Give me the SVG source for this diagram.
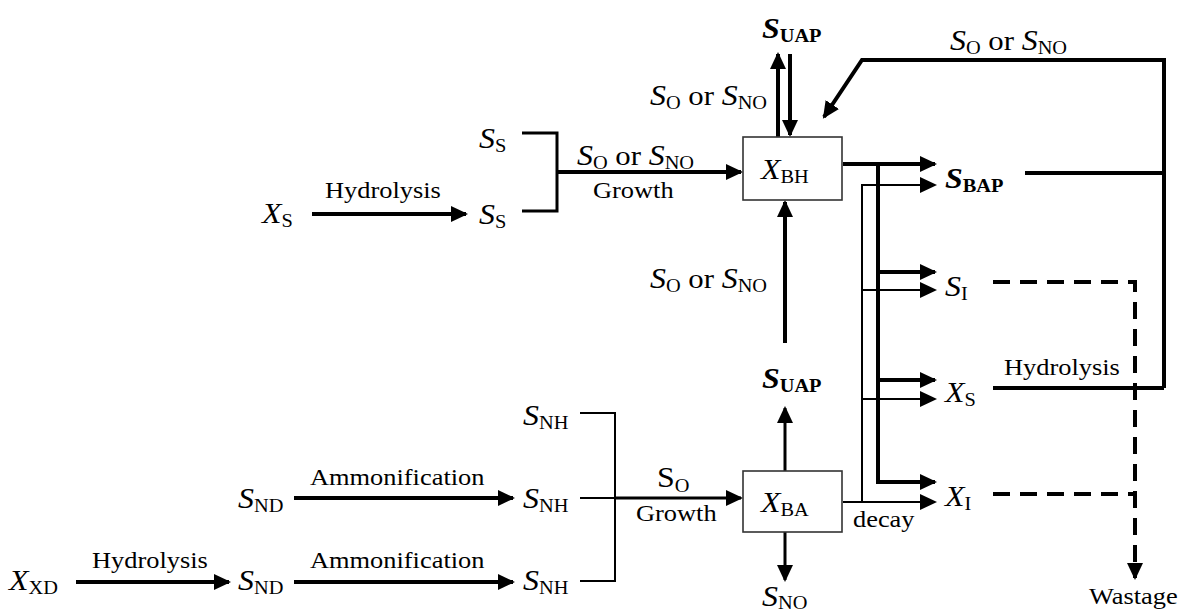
<svg xmlns="http://www.w3.org/2000/svg" width="1184" height="615" viewBox="0 0 1184 615">
<style>
.t{font-family:"Liberation Serif","Times New Roman",serif;fill:#000}
.m{font-size:29px;font-style:italic}
.s{font-size:18.5px;font-style:normal}
.o{font-size:28px;font-style:normal}
.u{font-size:29px;font-style:normal}
.l{font-size:24px}
.b{font-weight:bold}
.k{fill:none;stroke:#000;stroke-width:4}
.n{fill:none;stroke:#000;stroke-width:2}
.md{fill:none;stroke:#000;stroke-width:3}
.d{fill:none;stroke:#000;stroke-width:4;stroke-dasharray:17 10}
.box{fill:#fff;stroke:#333;stroke-width:1.6}
</style>
<defs>
<marker id="ah" markerUnits="userSpaceOnUse" markerWidth="18" markerHeight="18" refX="15" refY="9" orient="auto" viewBox="0 0 18 18">
<path d="M0,1 L17,9 L0,17 z" fill="#000"/>
</marker>
</defs>
<rect width="1184" height="615" fill="#fff"/>

<g id="connectors">
<line class="k" x1="312" y1="214" x2="466" y2="214" marker-end="url(#ah)"/>
<polyline class="md" points="522,133 557,133 557,211 522,211"/>
<line class="k" x1="557" y1="172" x2="741" y2="172" marker-end="url(#ah)"/>
<line class="k" x1="778" y1="137" x2="778" y2="54" marker-end="url(#ah)"/>
<line class="k" x1="790" y1="54" x2="790" y2="135" marker-end="url(#ah)"/>
<polyline class="k" points="1164,388 1164,60 862,60 824,117" marker-end="url(#ah)"/>
<line class="k" x1="1025" y1="173" x2="1164" y2="173"/>
<line class="k" x1="993" y1="388" x2="1164" y2="388"/>
<line class="k" x1="785" y1="343" x2="785" y2="202" marker-end="url(#ah)"/>
<line class="k" x1="843" y1="164" x2="935" y2="164" marker-end="url(#ah)"/>
<line class="k" x1="878" y1="164" x2="878" y2="482"/>
<line class="k" x1="876" y1="272" x2="935" y2="272" marker-end="url(#ah)"/>
<line class="k" x1="876" y1="380" x2="935" y2="380" marker-end="url(#ah)"/>
<line class="k" x1="876" y1="482" x2="935" y2="482" marker-end="url(#ah)"/>
<line class="n" x1="862" y1="185" x2="862" y2="502"/>
<line class="n" x1="861" y1="185" x2="935" y2="185" marker-end="url(#ah)"/>
<line class="n" x1="862" y1="290" x2="935" y2="290" marker-end="url(#ah)"/>
<line class="n" x1="862" y1="399" x2="935" y2="399" marker-end="url(#ah)"/>
<line class="n" x1="843" y1="502" x2="935" y2="502" marker-end="url(#ah)"/>
<polyline class="d" points="993,282 1135,282 1135,578" marker-end="url(#ah)"/>
<line class="d" x1="993" y1="494" x2="1135" y2="494"/>
<line class="md" x1="785" y1="471" x2="785" y2="408" marker-end="url(#ah)"/>
<line class="md" x1="785" y1="532" x2="785" y2="580" marker-end="url(#ah)"/>
<polyline class="n" points="580,413 615,413 615,581 580,581"/>
<line class="n" x1="580" y1="498" x2="615" y2="498"/>
<line class="md" x1="615" y1="498" x2="741" y2="498" marker-end="url(#ah)"/>
<line class="k" x1="294" y1="498" x2="513" y2="498" marker-end="url(#ah)"/>
<line class="k" x1="294" y1="582" x2="513" y2="582" marker-end="url(#ah)"/>
<line class="k" x1="76" y1="582" x2="229" y2="582" marker-end="url(#ah)"/>
</g>

<g id="labels">
<text class="t l" transform="translate(325,198) scale(1.1,1)">Hydrolysis</text>
<text class="t" transform="translate(577,165) scale(1.1,1)"><tspan class="m">S</tspan><tspan class="s" dy="4">O</tspan><tspan class="o" dy="-4"> or </tspan><tspan class="m">S</tspan><tspan class="s" dy="4">NO</tspan></text>
<text class="t l" transform="translate(593,198) scale(1.1,1)">Growth</text>
<text class="t" transform="translate(650,105) scale(1.1,1)"><tspan class="m">S</tspan><tspan class="s" dy="4">O</tspan><tspan class="o" dy="-4"> or </tspan><tspan class="m">S</tspan><tspan class="s" dy="4">NO</tspan></text>
<text class="t" transform="translate(950,50) scale(1.1,1)"><tspan class="m">S</tspan><tspan class="s" dy="4">O</tspan><tspan class="o" dy="-4"> or </tspan><tspan class="m">S</tspan><tspan class="s" dy="4">NO</tspan></text>
<text class="t" transform="translate(650,288) scale(1.1,1)"><tspan class="m">S</tspan><tspan class="s" dy="4">O</tspan><tspan class="o" dy="-4"> or </tspan><tspan class="m">S</tspan><tspan class="s" dy="4">NO</tspan></text>
<text class="t l" transform="translate(1004,375) scale(1.1,1)">Hydrolysis</text>
<text class="t" transform="translate(657,487) scale(1.1,1)"><tspan class="u">S</tspan><tspan class="s" dy="5">O</tspan></text>
<text class="t l" transform="translate(636,521) scale(1.1,1)">Growth</text>
<text class="t l" transform="translate(853,527) scale(1.1,1)">decay</text>
<text class="t l" transform="translate(310,485) scale(1.1,1)">Ammonification</text>
<text class="t l" transform="translate(310,568) scale(1.1,1)">Ammonification</text>
<text class="t l" transform="translate(92,568) scale(1.1,1)">Hydrolysis</text>
</g>

<g id="node-XS-left"><text class="t" transform="translate(262,223) scale(1.1,1)"><tspan class="m">X</tspan><tspan class="s" dy="4">S</tspan></text></g>
<g id="node-SS-top"><text class="t" transform="translate(479,148) scale(1.1,1)"><tspan class="m">S</tspan><tspan class="s" dy="4">S</tspan></text></g>
<g id="node-SS-bottom"><text class="t" transform="translate(479,224) scale(1.1,1)"><tspan class="m">S</tspan><tspan class="s" dy="4">S</tspan></text></g>
<g id="node-XBH"><rect class="box" x="743" y="137" width="99" height="63"/><text class="t" transform="translate(761,179) scale(1.1,1)"><tspan class="m">X</tspan><tspan class="s" dy="4">BH</tspan></text></g>
<g id="node-SUAP-top"><text class="t b" transform="translate(762,38) scale(1.1,1)"><tspan class="m">S</tspan><tspan class="s" dy="4">UAP</tspan></text></g>
<g id="node-SBAP"><text class="t b" transform="translate(945,188) scale(1.1,1)"><tspan class="m">S</tspan><tspan class="s" dy="4">BAP</tspan></text></g>
<g id="node-SI"><text class="t" transform="translate(945,296) scale(1.1,1)"><tspan class="m">S</tspan><tspan class="s" dy="4">I</tspan></text></g>
<g id="node-XS-right"><text class="t" transform="translate(945,402) scale(1.1,1)"><tspan class="m">X</tspan><tspan class="s" dy="4">S</tspan></text></g>
<g id="node-XI"><text class="t" transform="translate(945,506) scale(1.1,1)"><tspan class="m">X</tspan><tspan class="s" dy="4">I</tspan></text></g>
<g id="node-SUAP-mid"><text class="t b" transform="translate(762,388) scale(1.1,1)"><tspan class="m">S</tspan><tspan class="s" dy="4">UAP</tspan></text></g>
<g id="node-XBA"><rect class="box" x="743" y="471" width="99" height="61"/><text class="t" transform="translate(761,512) scale(1.1,1)"><tspan class="m">X</tspan><tspan class="s" dy="4">BA</tspan></text></g>
<g id="node-SNO"><text class="t" transform="translate(762,606) scale(1.1,1)"><tspan class="m">S</tspan><tspan class="s" dy="3">NO</tspan></text></g>
<g id="node-SNH-1"><text class="t" transform="translate(523,425) scale(1.1,1)"><tspan class="m">S</tspan><tspan class="s" dy="4">NH</tspan></text></g>
<g id="node-SNH-2"><text class="t" transform="translate(523,508) scale(1.1,1)"><tspan class="m">S</tspan><tspan class="s" dy="4">NH</tspan></text></g>
<g id="node-SNH-3"><text class="t" transform="translate(523,590) scale(1.1,1)"><tspan class="m">S</tspan><tspan class="s" dy="4">NH</tspan></text></g>
<g id="node-SND-1"><text class="t" transform="translate(238,508) scale(1.1,1)"><tspan class="m">S</tspan><tspan class="s" dy="4">ND</tspan></text></g>
<g id="node-SND-2"><text class="t" transform="translate(238,590) scale(1.1,1)"><tspan class="m">S</tspan><tspan class="s" dy="4">ND</tspan></text></g>
<g id="node-XXD"><text class="t" transform="translate(9,590) scale(1.1,1)"><tspan class="m">X</tspan><tspan class="s" dy="4">XD</tspan></text></g>
<g id="node-Wastage"><text class="t l" transform="translate(1089,604) scale(1.1,1)">Wastage</text></g>
</svg>
